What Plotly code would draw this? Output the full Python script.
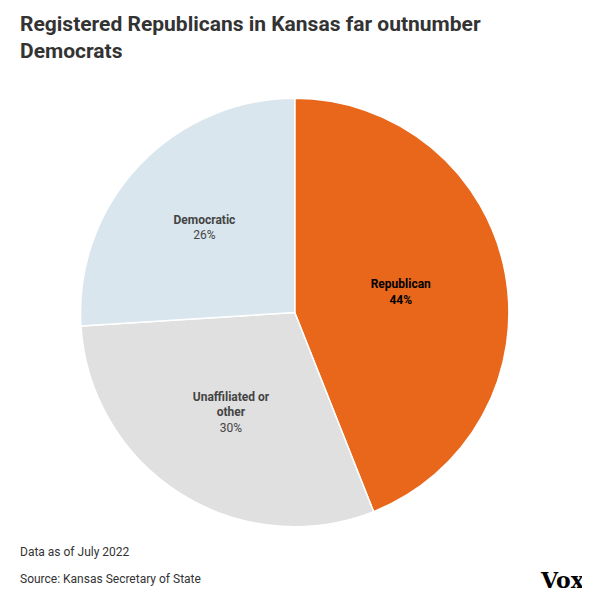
import plotly.graph_objects as go

parties = ["Republican", "Unaffiliated or<br>other", "Democratic"]
shares = [44, 30, 26]
colors = ["#E8671B", "#E0E0E0", "#D9E6EE"]

fig = go.Figure()
fig.add_trace(go.Pie(
    labels=parties,
    values=shares,
    sort=False,
    direction="clockwise",
    rotation=0,
    marker=dict(colors=colors, line=dict(color="white", width=1.5)),
    texttemplate=["<b>%{label}<br>%{value}%</b>", "<b>%{label}</b><br>%{value}%", "<b>%{label}</b><br>%{value}%"],
    textposition="inside",
    insidetextorientation="horizontal",
    textfont=dict(family="Roboto, sans-serif", size=12, color=["#000000", "#444444", "#444444"]),
    hoverinfo="label+percent",
    showlegend=False,
    domain=dict(x=[0.123, 0.849], y=[0.135, 0.850]),
))

fig.update_layout(
    width=590, height=600,
    margin=dict(l=0, r=0, t=0, b=0),
    paper_bgcolor="white",
    plot_bgcolor="white",
    font=dict(family="Roboto, sans-serif"),
    annotations=[
        dict(text="<b>Registered Republicans in Kansas far outnumber<br>Democrats</b>",
             x=10 / 590, y=1 - 2 / 600, xref="paper", yref="paper", showarrow=False, align="left",
             xanchor="left", yanchor="top", font=dict(size=21, color="#333333")),
        dict(text="Data as of July 2022", x=10 / 590, y=1 - 544 / 600, xref="paper", yref="paper",
             showarrow=False, xanchor="left", yanchor="middle", font=dict(size=12, color="#333333")),
        dict(text="Source: Kansas Secretary of State", x=10 / 590, y=1 - 571 / 600, xref="paper", yref="paper",
             showarrow=False, xanchor="left", yanchor="middle", font=dict(size=12, color="#333333")),
        dict(text="<b>Vox</b>", x=530 / 590, y=1 - 572 / 600, xref="paper", yref="paper",
             showarrow=False, xanchor="left", yanchor="middle",
             font=dict(family="DejaVu Serif, serif", size=22, color="#000000")),
    ],
)

fig.write_html("out.html")
